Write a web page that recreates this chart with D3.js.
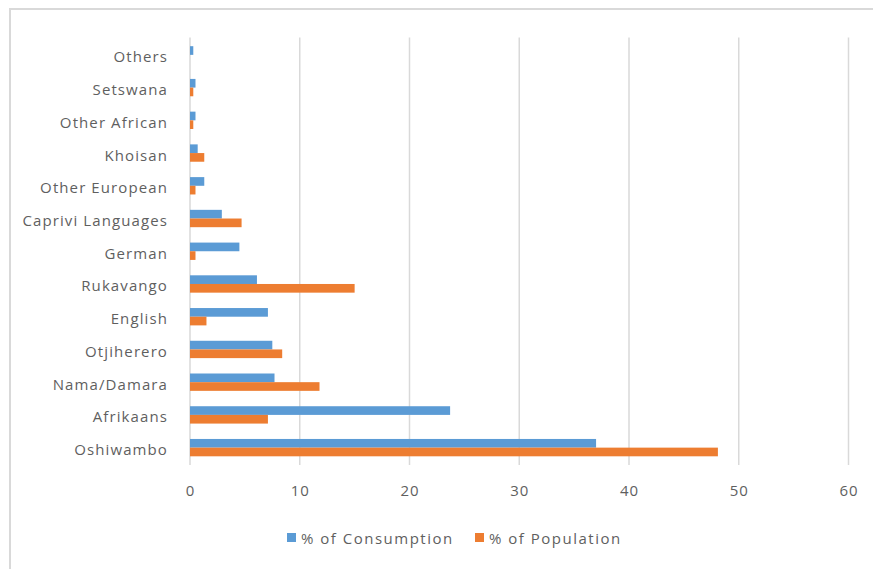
<!DOCTYPE html>
<html>
<head>
<meta charset="utf-8">
<script src="https://cdn.jsdelivr.net/npm/d3@7"></script>
<style>
  html, body { margin: 0; padding: 0; background: #fff; }
  svg { display: block; font-family: "Open Sans", sans-serif; }
</style>
</head>
<body>
<svg id="chart" width="873" height="569"></svg>
<script>
// Language groups, listed bottom to top as they appear on the axis
const categories = [
  "Oshiwambo", "Afrikaans", "Nama/Damara", "Otjiherero", "English",
  "Rukavango", "German", "Caprivi Languages", "Other European",
  "Khoisan", "Other African", "Setswana", "Others"
];
const consumption = [37.0, 23.7, 7.7, 7.5, 7.1, 6.1, 4.5, 2.9, 1.3, 0.7, 0.5, 0.5, 0.3];
const population  = [48.1, 7.1, 11.8, 8.4, 1.5, 15.0, 0.5, 4.7, 0.5, 1.3, 0.3, 0.3, 0.0];
const seriesNames = ["% of Consumption", "% of Population"];
const seriesColors = ["#5B9BD5", "#ED7D31"];
const xTicks = [0, 10, 20, 30, 40, 50, 60];

const svg = d3.select("#chart");
const W = 873, H = 569;
const textColor = "#5f5f5f";

// outer chart frame
svg.append("rect")
  .attr("x", 10).attr("y", 9)
  .attr("width", W + 20).attr("height", H + 20)
  .attr("fill", "#fff")
  .attr("stroke", "#d9d9d9")
  .attr("stroke-width", 2);

const plot = { left: 190, right: 848.5, top: 38.5, bottom: 464 };

const x = d3.scaleLinear().domain([0, 60]).range([plot.left, plot.right]);
const y = d3.scaleBand()
  .domain(categories.slice().reverse())
  .range([plot.top, plot.bottom])
  .paddingInner(0.47)
  .paddingOuter(0.235);
const sub = d3.scaleBand().domain([0, 1]).range([0, y.bandwidth()]);

// vertical gridlines
svg.append("g")
  .selectAll("line")
  .data(xTicks)
  .join("line")
  .attr("x1", d => x(d)).attr("x2", d => x(d))
  .attr("y1", plot.top - 1).attr("y2", plot.bottom + 1)
  .attr("stroke", "#d9d9d9")
  .attr("stroke-width", 1.5);

// x axis tick labels
const xAxis = d3.axisBottom(x).tickValues(xTicks).tickSize(0).tickPadding(0);
const gx = svg.append("g")
  .attr("transform", `translate(0, ${plot.bottom + 21})`)
  .call(xAxis);
gx.select(".domain").remove();
gx.selectAll("text")
  .attr("fill", textColor)
  .attr("font-size", 15)
  .attr("letter-spacing", 1)
  .attr("font-family", "'Open Sans', sans-serif");

// category labels
const yAxis = d3.axisLeft(y).tickSize(0).tickPadding(22);
const gy = svg.append("g")
  .attr("transform", `translate(${plot.left}, 0)`)
  .call(yAxis);
gy.select(".domain").remove();
gy.selectAll("text")
  .attr("fill", textColor)
  .attr("font-size", 15)
  .attr("letter-spacing", 1.1)
  .attr("dy", "0.5em")
  .attr("font-family", "'Open Sans', sans-serif");

// bars
const rows = categories.map((c, i) => ({ c, vals: [consumption[i], population[i]] }));
const groups = svg.append("g")
  .selectAll("g")
  .data(rows)
  .join("g")
  .attr("transform", d => `translate(0, ${y(d.c)})`);
groups.selectAll("rect")
  .data(d => d.vals.map((v, s) => ({ v, s })))
  .join("rect")
  .attr("x", x(0))
  .attr("y", d => sub(d.s))
  .attr("width", d => x(d.v) - x(0))
  .attr("height", sub.bandwidth())
  .attr("fill", d => seriesColors[d.s]);

// legend
const legend = svg.append("g").attr("transform", "translate(0, 538)");
const legendX = [287, 475];
seriesNames.forEach((name, i) => {
  const g = legend.append("g").attr("transform", `translate(${legendX[i]}, 0)`);
  g.append("rect").attr("x", 0).attr("y", -5).attr("width", 9).attr("height", 9)
    .attr("fill", seriesColors[i]);
  g.append("text").attr("x", 14).attr("y", 0).attr("dy", "0.38em")
    .attr("fill", textColor).attr("font-size", 15)
    .attr("letter-spacing", 1.5)
    .text(name);
});
</script>
</body>
</html>
